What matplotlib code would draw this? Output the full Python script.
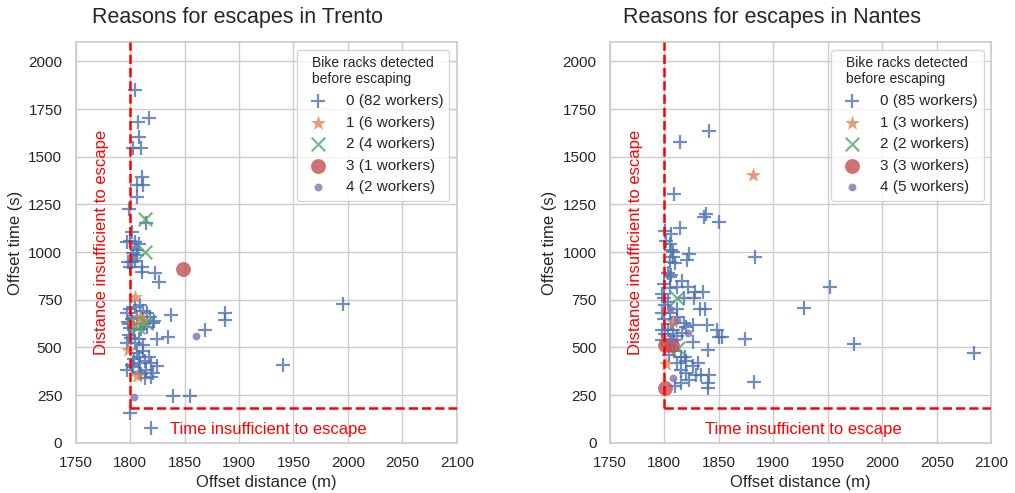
import matplotlib
matplotlib.use("Agg")
import matplotlib.pyplot as plt
import seaborn as sns

# ---------------- data ----------------
categories = [0, 1, 2, 3, 4]
trento_counts = [82, 6, 4, 1, 2]
nantes_counts = [85, 3, 2, 3, 5]

trento_dist_0 = [1805, 1807.6, 1817.7, 1808, 1803, 1810, 1810.7, 1806.5, 1812, 1806.5,
                 1799.4, 1815, 1801.5, 1797.6, 1805, 1808, 1803, 1806.5, 1798, 1802,
                 1805, 1800, 1811, 1810.7, 1823, 1827, 1797, 1804.6, 1809, 1798,
                 1802, 1812, 1816, 1821, 1818, 1838, 1887, 1887, 1869, 1835,
                 1824.5, 1800, 1804, 1810, 1816, 1797, 1804.6, 1801, 1808, 1804,
                 1809, 1814, 1819, 1802, 1808, 1825, 1797, 1815, 1821, 1813.8,
                 1819.6, 1810, 1940.6, 1839.7, 1855, 1800, 1819.7, 1995, 1806, 1812,
                 1800, 1806, 1822, 1813, 1799, 1812, 1817, 1803, 1808, 1799,
                 1806, 1800]
trento_time_0 = [1849, 1683, 1701, 1605, 1544, 1544, 1395, 1351, 1351, 1290,
                 1224, 1150, 1107, 1054, 1054, 1040, 995, 985, 949, 949,
                 955, 921, 921, 897, 888, 844, 679, 713, 722, 635,
                 650, 690, 680, 626, 660, 670, 679, 643, 591, 556,
                 542, 600, 590, 595, 605, 525, 525, 550, 545, 440,
                 420, 430, 420, 410, 450, 400, 381, 381, 365, 339,
                 345, 360, 407, 246, 246, 154, 75, 727, 470, 480,
                 700, 660, 640, 620, 565, 510, 450, 395, 370, 620,
                 1010, 1060]
trento_dist_1 = [1804.6, 1809, 1803, 1798.5, 1806, 1812]
trento_time_1 = [766, 661, 620, 486, 350, 640]
trento_dist_2 = [1813.8, 1813.8, 1807.6, 1815]
trento_time_2 = [1173, 998, 608, 626]
trento_dist_3 = [1849]
trento_time_3 = [909]
trento_dist_4 = [1861, 1803.7]
trento_time_4 = [560, 241]

nantes_dist_0 = [1841, 1814.4, 1809, 1836, 1838.5, 1850, 1814, 1800.6, 1802, 1805,
                 1806, 1808, 1805, 1823, 1883, 1809.8, 1821, 1803, 1806, 1805,
                 1797.6, 1805, 1811.4, 1822, 1828, 1835.8, 1800.6, 1832.7, 1837, 1797.6,
                 1805, 1952, 1928, 1874, 1974, 2084, 1882, 1818, 1820, 1826,
                 1839, 1797.6, 1803.7, 1808.3, 1848, 1850, 1853, 1816, 1797.6, 1805,
                 1809, 1840, 1815, 1819, 1820, 1826, 1831, 1815, 1820, 1829,
                 1834, 1841, 1815, 1840, 1840, 1800, 1800, 1812, 1812, 1809,
                 1804, 1812, 1823, 1810, 1800, 1816, 1803, 1818, 1827, 1806,
                 1801, 1812, 1826, 1806, 1808]
nantes_time_0 = [1636, 1578, 1304, 1185, 1199, 1159, 1124, 1112, 1057, 1040,
                 1010, 975, 950, 990, 972, 941, 958, 890, 880, 870,
                 780, 810, 818, 818, 792, 792, 722, 700, 700, 678,
                 678, 818, 705, 544, 518, 472, 320, 628, 605, 615,
                 617, 591, 591, 591, 590, 555, 552, 574, 538, 540,
                 538, 486, 451, 451, 430, 400, 420, 380, 365, 355,
                 355, 355, 313, 313, 285, 760, 650, 700, 660, 480,
                 460, 420, 330, 300, 830, 850, 740, 760, 760, 625,
                 570, 560, 530, 1095, 1000]
nantes_dist_1 = [1881.7, 1808, 1802]
nantes_time_1 = [1404, 635, 413]
nantes_dist_2 = [1811.4, 1812.8]
nantes_time_2 = [757, 495]
nantes_dist_3 = [1800.6, 1806.8, 1800.6]
nantes_time_3 = [512, 512, 285]
nantes_dist_4 = [1805, 1811.4, 1822, 1806, 1808]
nantes_time_4 = [700, 643, 574, 538, 338]

x_ticks = [1750, 1800, 1850, 1900, 1950, 2000, 2050, 2100]
y_ticks = [0, 250, 500, 750, 1000, 1250, 1500, 1750, 2000]
dist_threshold = 1800
time_threshold = 180

# ---------------- style ----------------
sns.set_theme(style="whitegrid")
plt.rcParams['font.family'] = ['Liberation Sans', 'DejaVu Sans']

palette = sns.color_palette("deep")
markers = ['+', '*', 'x', 'o', 'o']
sizes = [110, 130, 95, 115, 32]

fig = plt.figure(figsize=(10.15, 4.93), dpi=100)
W, H = 1015, 493
ax_l = fig.add_axes([75.5 / W, (H - 442.7) / H, 381.5 / W, 400.4 / H])
ax_r = fig.add_axes([609.8 / W, (H - 442.7) / H, 381.5 / W, 400.4 / H])

cities = [
    (ax_l, "Trento", trento_counts,
     [(trento_dist_0, trento_time_0), (trento_dist_1, trento_time_1),
      (trento_dist_2, trento_time_2), (trento_dist_3, trento_time_3),
      (trento_dist_4, trento_time_4)], 237),
    (ax_r, "Nantes", nantes_counts,
     [(nantes_dist_0, nantes_time_0), (nantes_dist_1, nantes_time_1),
      (nantes_dist_2, nantes_time_2), (nantes_dist_3, nantes_time_3),
      (nantes_dist_4, nantes_time_4)], 771.7),
]

for ax, city, counts, series, title_x in cities:
    for i, (d, t) in enumerate(series):
        kw = dict(marker=markers[i], s=sizes[i], color=palette[i], alpha=0.8,
                  label=f"{categories[i]} ({counts[i]} workers)", zorder=3)
        if markers[i] in ['+', 'x']:
            kw['linewidths'] = 1.6
        else:
            kw['linewidths'] = 0
        ax.scatter(d, t, **kw)
    ax.axvline(dist_threshold, ymin=time_threshold / 2100, color='red',
               linestyle='--', linewidth=1.8, zorder=4)
    ax.axhline(time_threshold, xmin=(dist_threshold - 1750) / 350, color='red',
               linestyle='--', linewidth=1.8, zorder=4)
    ax.text(1774, 1050, "Distance insufficient to escape", color='red',
            rotation=90, ha='center', va='center', fontsize=12)
    ax.text(1837, 70, "Time insufficient to escape", color='red',
            ha='left', va='center', fontsize=12)
    ax.set_xlim(1750, 2100)
    ax.set_ylim(0, 2100)
    ax.set_xticks(x_ticks)
    ax.set_yticks(y_ticks)
    ax.tick_params(labelsize=11)
    ax.set_xlabel("Offset distance (m)", fontsize=12)
    ax.set_ylabel("Offset time (s)", fontsize=12)
    leg = ax.legend(title="Bike racks detected\nbefore escaping", loc='upper right',
                    fontsize=11, title_fontsize=10,
                    scatterpoints=1, handletextpad=0.8, labelspacing=0.5)
    fig.text(title_x / W, 1 - 22.8 / H, f"Reasons for escapes in {city}",
             ha='center', va='baseline', fontsize=15.5, color='0.15')

fig.savefig("out.png", dpi=100)
